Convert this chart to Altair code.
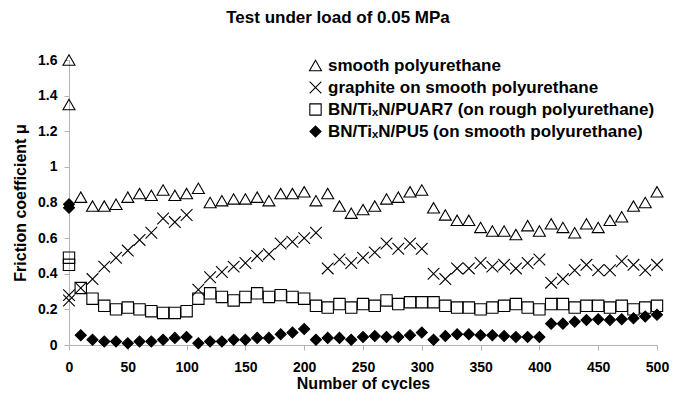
import altair as alt
import pandas as pd

# ---- data ----
cycles = [0, 0, 10, 20, 30, 40, 50, 60, 70, 80, 90, 100,
          110, 120, 130, 140, 150, 160, 170, 180, 190, 200,
          210, 220, 230, 240, 250, 260, 270, 280, 290, 300,
          310, 320, 330, 340, 350, 360, 370, 380, 390, 400,
          410, 420, 430, 440, 450, 460, 470, 480, 490, 500]

smooth_pu = [1.60, 1.35, 0.83, 0.78, 0.78, 0.79, 0.83, 0.85, 0.84, 0.87, 0.84, 0.85,
             0.88, 0.80, 0.81, 0.82, 0.82, 0.83, 0.81, 0.85, 0.85, 0.86,
             0.81, 0.85, 0.78, 0.74, 0.76, 0.78, 0.82, 0.83, 0.86, 0.87,
             0.77, 0.73, 0.70, 0.70, 0.66, 0.64, 0.64, 0.62, 0.67, 0.64,
             0.68, 0.66, 0.63, 0.68, 0.66, 0.70, 0.72, 0.78, 0.80, 0.86]

graphite = [0.28, 0.25, 0.32, 0.37, 0.44, 0.49, 0.53, 0.59, 0.63, 0.71, 0.69, 0.73,
            0.31, 0.38, 0.41, 0.44, 0.46, 0.50, 0.51, 0.57, 0.58, 0.60,
            0.63, 0.43, 0.48, 0.46, 0.49, 0.52, 0.57, 0.54, 0.57, 0.54,
            0.40, 0.37, 0.43, 0.43, 0.46, 0.44, 0.45, 0.43, 0.46, 0.48,
            0.35, 0.37, 0.42, 0.45, 0.42, 0.42, 0.47, 0.45, 0.42, 0.45]

puar7 = [0.49, 0.45, 0.32, 0.26, 0.22, 0.20, 0.21, 0.20, 0.19, 0.18, 0.18, 0.19,
         0.26, 0.29, 0.27, 0.25, 0.27, 0.29, 0.27, 0.28, 0.27, 0.26,
         0.22, 0.21, 0.23, 0.21, 0.23, 0.22, 0.25, 0.23, 0.24, 0.24,
         0.24, 0.22, 0.21, 0.21, 0.20, 0.21, 0.22, 0.23, 0.21, 0.20,
         0.23, 0.23, 0.21, 0.22, 0.22, 0.21, 0.22, 0.20, 0.21, 0.22]

pu5 = [0.79, 0.77, 0.055, 0.03, 0.02, 0.02, 0.01, 0.02, 0.02, 0.03, 0.04, 0.045,
       0.01, 0.02, 0.02, 0.03, 0.03, 0.04, 0.04, 0.06, 0.07, 0.09,
       0.03, 0.04, 0.04, 0.03, 0.045, 0.05, 0.045, 0.045, 0.055, 0.07,
       0.03, 0.05, 0.06, 0.06, 0.055, 0.055, 0.05, 0.045, 0.045, 0.045,
       0.12, 0.12, 0.13, 0.14, 0.145, 0.14, 0.145, 0.15, 0.16, 0.17]

series_names = ["smooth polyurethane",
                "graphite on smooth polyurethane",
                "BN/Ti\u2093N/PUAR7 (on rough polyurethane)",
                "BN/Ti\u2093N/PU5 (on smooth polyurethane)"]

x_ticks = [0, 50, 100, 150, 200, 250, 300, 350, 400, 450, 500]
y_ticks = [0, 0.2, 0.4, 0.6, 0.8, 1.0, 1.2, 1.4, 1.6]

rows = []
for name, vals in zip(series_names, [smooth_pu, graphite, puar7, pu5]):
    for c, v in zip(cycles, vals):
        rows.append({"cycles": c, "mu": v, "series": name})
df = pd.DataFrame(rows)

FONT = "Liberation Sans"
shapes = ["triangle-up", "M-1,-1L1,1M1,-1L-1,1", "square", "diamond"]
fills = ["transparent", "transparent", "transparent", "black"]
strokes = ["black", "black", "black", "black"]
sizes = [144, 121, 125, 90]

def leg():
    return alt.Legend(title=None, orient="none", legendX=238, legendY=-3,
                      labelOffset=4, rowPadding=4, padding=0)

chart = alt.Chart(df).mark_point(
    filled=True, strokeWidth=1.1, opacity=1, clip=False
).encode(
    x=alt.X("cycles:Q",
            scale=alt.Scale(domain=[0, 500], nice=False, zero=True),
            axis=alt.Axis(values=x_ticks, title="Number of cycles", labelFlush=False,
                          titleY=38, titleBaseline="middle", labelPadding=10)),
    y=alt.Y("mu:Q",
            scale=alt.Scale(domain=[0, 1.6], nice=False),
            axis=alt.Axis(values=y_ticks, format=".1~f", labelFlush=False,
                          title="Friction coefficient \u03bc",
                          titleX=-49, titleBaseline="middle", titleAngle=-90,
                          labelPadding=7)),
    shape=alt.Shape("series:N", scale=alt.Scale(domain=series_names, range=shapes), legend=leg()),
    fill=alt.Fill("series:N", scale=alt.Scale(domain=series_names, range=fills), legend=leg()),
    stroke=alt.Stroke("series:N", scale=alt.Scale(domain=series_names, range=strokes), legend=leg()),
    size=alt.Size("series:N", scale=alt.Scale(domain=series_names, range=sizes), legend=leg()),
).properties(
    width=588, height=285,
    title=alt.TitleParams("Test under load of 0.05 MPa", font=FONT, fontSize=17,
                          fontWeight="bold", color="black", anchor="middle",
                          frame="group", dx=-25, offset=26),
    autosize=alt.AutoSizeParams(type="none"),
    padding={"left": 61, "top": 52, "right": 15, "bottom": 45},
).configure_view(stroke=None).configure_axis(
    grid=False, domainColor="#b4b4b4", tickColor="#b4b4b4", tickSize=5,
    labelFont=FONT, labelFontSize=14, labelFontWeight="bold", labelColor="black",
    titleFont=FONT, titleFontSize=16, titleFontWeight="bold", titleColor="black",
).configure_legend(
    labelFont=FONT, labelFontSize=17, labelFontWeight="bold", labelColor="black",
    symbolStrokeColor="black", symbolStrokeWidth=1.1, labelLimit=500,
)

chart.save("out.html", embed_options={"renderer": "svg", "actions": False})
